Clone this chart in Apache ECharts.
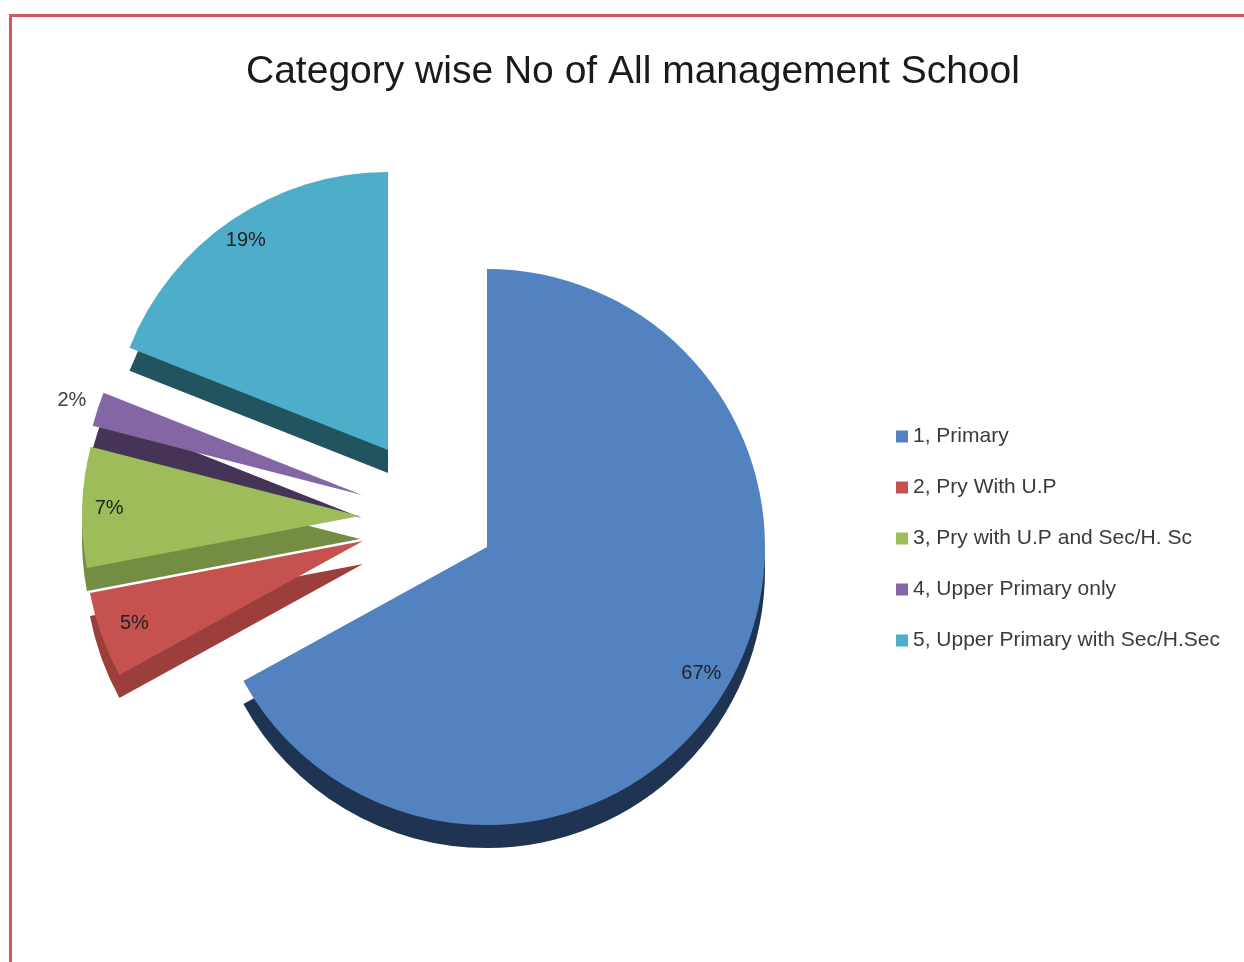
<!DOCTYPE html>
<html>
<head>
<meta charset="utf-8">
<script src="https://cdn.jsdelivr.net/npm/echarts@6/dist/echarts.min.js"></script>
<style>
  html, body { margin: 0; padding: 0; background: #ffffff; }
  #frame { position: absolute; left: 9px; top: 14px; width: 1235px; height: 948px;
           border-top: 3px solid #CF5A58; border-left: 3px solid #CF5A58; }
  #chart { position: absolute; left: 0; top: 0; width: 1244px; height: 962px; }
</style>
</head>
<body>
<div id="frame"></div>
<div id="chart"></div>
<script>
// ---- data ----
const categories = [
  "1, Primary",
  "2, Pry With U.P",
  "3, Pry with U.P and Sec/H. Sc",
  "4, Upper Primary only",
  "5, Upper Primary with Sec/H.Sec"
];
const values = [67, 5, 7, 2, 19];
const titleText = "Category wise No of All management School";

// ---- style / layout ----
const topColors  = ["#5283C0", "#C5524F", "#9DBD5A", "#8466A5", "#4EADC8"];
const sideColors = ["#1F3452", "#9C3E3B", "#738D42", "#463456", "#22545F"];
const sliceCenters = [[487, 547], [363, 541], [360, 516], [362, 495], [388, 450]];
const labelRadius = [246, 240, 248, 302, 250];
const R = 278;
const DEPTH = 23;

function makeData(idx, colors, showLabel) {
  return values.map((v, i) => ({
    name: categories[i],
    value: v,
    itemStyle: { color: i === idx ? colors[i] : "rgba(0,0,0,0)" },
    label: { show: !!showLabel && i === idx }
  }));
}

const common = {
  type: "pie",
  startAngle: 90,
  clockwise: true,
  silent: true,
  avoidLabelOverlap: false,
  labelLine: { show: false },
  emphasis: { disabled: true },
  animation: false,
  percentPrecision: 0
};

const series = [];
// side faces (depth)
categories.forEach((c, i) => {
  series.push(Object.assign({}, common, {
    center: [sliceCenters[i][0], sliceCenters[i][1] + DEPTH],
    radius: [0, R],
    data: makeData(i, sideColors, false),
    label: { show: false },
    z: 1
  }));
});
// top faces
categories.forEach((c, i) => {
  series.push(Object.assign({}, common, {
    center: sliceCenters[i],
    radius: [0, R],
    data: makeData(i, topColors, false),
    label: { show: false },
    z: 2
  }));
});
// percentage labels
categories.forEach((c, i) => {
  series.push(Object.assign({}, common, {
    center: sliceCenters[i],
    radius: [labelRadius[i] - 8, labelRadius[i] + 8],
    data: values.map((v, j) => ({
      name: categories[j], value: v,
      itemStyle: { color: "rgba(0,0,0,0)" },
      label: { show: j === i }
    })),
    label: {
      position: "inside",
      formatter: "{d}%",
      fontFamily: "Liberation Sans, Arial, sans-serif",
      fontSize: 20,
      color: i === 3 ? "#404040" : "#222222"
    },
    z: 3
  }));
});

const chart = echarts.init(document.getElementById("chart"), null, { renderer: "canvas" });
chart.setOption({
  backgroundColor: "transparent",
  animation: false,
  title: {
    text: titleText,
    left: 241,
    top: 48,
    textStyle: {
      fontFamily: "Liberation Sans, Arial, sans-serif",
      fontSize: 39,
      fontWeight: "normal",
      color: "#1a1a1a"
    }
  },
  legend: {
    orient: "vertical",
    left: 891,
    top: 421,
    itemWidth: 12,
    itemHeight: 12,
    itemGap: 30,
    icon: "rect",
    selectedMode: false,
    data: categories.map((c, i) => ({ name: c, itemStyle: { color: topColors[i] } })),
    textStyle: {
      fontFamily: "Liberation Sans, Arial, sans-serif",
      fontSize: 21,
      lineHeight: 20,
      color: "#3a3a3a"
    }
  },
  series: series
});
</script>
</body>
</html>
